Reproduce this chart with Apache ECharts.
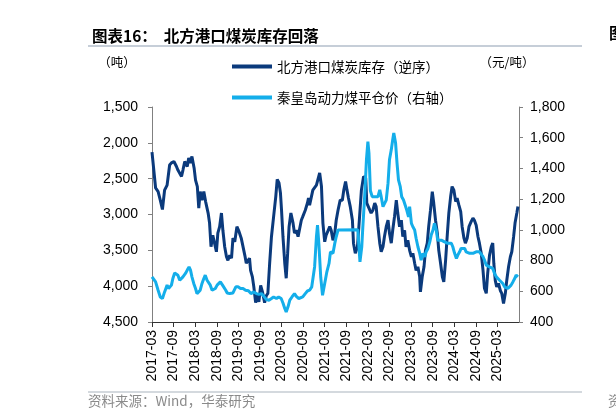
<!DOCTYPE html>
<html><head><meta charset="utf-8">
<script src="https://cdn.jsdelivr.net/npm/echarts@6/dist/echarts.min.js"></script>
<style>html,body{margin:0;padding:0;background:#fff}#c{width:616px;height:419px}</style>
</head><body><div id="c"></div><script>
// Time positions are in months after March 2017 (2017-03 = 0)
const titleText = '图表16：  北方港口煤炭库存回落';
const seriesNames = ['北方港口煤炭库存（逆序）', '秦皇岛动力煤平仓价（右轴）'];
const leftUnit = '（吨）';
const rightUnit = '（元/吨）';
const sourceText = '资料来源：Wind，华泰研究';
const xTickLabels = ['2017-03','2017-09','2018-03','2018-09','2019-03','2019-09','2020-03','2020-09','2021-03','2021-09','2022-03','2022-09','2023-03','2023-09','2024-03','2024-09','2025-03'];

const invT = [0,1.0,1.7,2.3,2.9,3.5,4.2,4.9,5.4,6.1,
6.8,7.2,7.7,8.2,8.6,9.1,9.6,9.8,10.2,10.7,
11.1,11.7,12.1,12.6,13.0,13.4,13.9,14.4,14.9,15.6,
16.0,16.4,16.9,17.4,17.9,18.3,18.8,19.3,19.7,20.2,
20.7,21.1,21.6,22.1,22.5,23.0,23.6,24.2,24.8,25.3,
25.8,26.2,26.7,27.1,27.4,27.9,28.3,28.8,29.3,29.7,
30.2,30.7,31.3,31.8,32.2,32.7,33.2,33.8,34.4,34.8,
35.3,35.7,36.0,36.4,36.9,37.3,37.7,38.1,38.6,39.2,
39.6,40.1,40.6,41.0,41.5,41.9,42.6,43.2,43.5,43.8,
44.7,45.7,46.6,47.1,47.5,48.0,48.4,49.4,49.8,50.3,
50.8,51.2,51.7,52.3,52.9,53.3,53.8,54.2,54.6,55.1,
55.7,56.0,56.5,57.1,57.5,58.2,58.8,59.4,59.7,60.3,
60.9,61.4,61.9,62.3,62.8,63.3,63.7,64.2,64.6,65.1,
65.6,66.0,66.5,66.9,67.4,67.9,68.3,68.8,69.3,69.7,
70.2,70.6,71.1,71.6,72.1,72.5,73.0,73.4,73.9,74.4,
74.6,75.1,75.6,76.0,76.5,76.9,77.4,77.9,78.3,78.8,
79.3,79.7,80.2,80.7,81.1,81.6,82.1,82.5,83.0,83.4,
83.9,84.4,84.8,85.3,85.8,86.2,86.7,87.1,87.6,88.1,
88.7,89.2,89.6,90.1,90.6,91.0,91.5,92.0,92.4,92.9,
93.3,93.8,94.3,94.7,95.0,95.4,95.8,96.3,96.8,97.2,
97.7,98.2,98.6,99.1,99.6,100.0,100.5,100.9,101.4,101.7];
const invV = [2130,2630,2680,2800,2930,2660,2590,2310,2280,2260,
2330,2380,2400,2470,2380,2260,2240,2330,2210,2280,
2190,2350,2520,2610,2910,2680,2800,2680,2820,2980,
3120,3450,3290,3310,3520,3260,3170,2980,3220,3450,
3590,3640,3570,3610,3330,3380,3170,3240,3330,3310,
3570,3680,3660,3610,3780,3870,4010,4230,4100,4220,
3990,4080,4230,4130,4100,3680,3310,3030,2750,2510,
2560,2700,2940,3310,3680,3890,3540,3170,2980,3120,
3260,3220,3310,3290,3080,3030,2940,2840,2770,2870,
2660,2590,2420,2610,3120,3380,3290,3170,3220,3360,
3260,3080,2940,2800,2800,2660,2540,2660,2770,2890,
3080,3400,3540,3450,3170,2660,2470,2490,2840,2910,
2980,2940,2840,2890,3170,3400,3520,3450,3310,3170,
3080,3260,3400,3220,3030,2800,2980,3170,3080,3310,
3220,3450,3360,3500,3590,3540,3680,3780,3730,3870,
4080,3870,3730,3500,3400,3170,2940,2680,2840,3080,
3260,3500,3680,3870,3940,3640,3260,2980,2750,2610,
2660,2820,2770,2870,2960,3170,3330,3400,3330,3170,
3100,3050,3080,3150,3310,3400,3540,3780,4030,4100,
3820,3570,3450,3400,3680,3920,4010,3960,4060,4100,
4240,4100,3920,3730,3590,3520,3310,3120,2980,2890];

const priceT = [0,1.0,1.7,2.3,2.9,3.5,4.2,4.6,5.4,5.8,
6.3,6.8,7.2,7.7,8.2,8.6,9.3,9.8,10.3,10.7,
11.1,11.6,12.1,12.5,13.0,13.4,13.9,14.4,14.8,15.3,
15.8,16.2,16.7,17.1,17.6,18.1,18.5,19.0,19.6,20.0,
20.5,20.9,21.6,22.5,23.3,23.9,24.6,25.3,26.0,26.8,
27.5,28.3,29.0,29.7,30.4,31.0,31.8,32.5,33.2,33.8,
34.6,35.2,35.9,36.4,36.9,37.3,37.8,38.3,38.9,39.6,
40.1,40.8,41.3,41.9,42.6,43.2,43.8,44.4,45.2,45.7,
46.0,46.4,46.9,47.4,48.0,48.6,49.2,49.6,50.3,50.8,
51.2,51.7,52.1,57.2,57.8,58.3,58.6,59.1,59.6,60.0,
60.3,60.7,61.2,61.9,62.8,63.3,63.7,64.2,64.6,65.1,
65.6,66.0,66.5,66.9,67.2,67.7,68.1,68.5,69.0,69.4,
69.9,70.4,70.8,71.3,71.6,72.1,72.5,73.0,73.4,73.9,
74.4,74.8,75.3,75.8,76.2,76.7,77.2,77.6,78.1,78.5,
79.0,79.4,79.9,80.4,80.8,81.3,81.8,82.2,82.7,83.2,
83.6,84.1,84.6,85.0,85.5,85.9,86.4,86.9,87.3,87.8,
88.3,88.7,89.2,89.6,90.1,90.6,91.0,91.5,92.0,92.4,
92.9,93.3,93.8,94.3,94.7,95.2,95.7,96.1,96.6,97.1,
97.5,98.0,98.4,98.9,99.4,99.8,100.3,100.8,101.2,101.7];
const priceV = [694,661,607,563,553,596,640,618,640,683,
720,727,705,672,676,694,716,738,759,738,
694,651,618,585,574,607,651,683,705,672,
683,640,607,596,618,640,651,661,640,629,
607,589,585,589,629,629,618,618,607,603,
585,596,585,580,585,570,546,542,553,563,
553,563,553,524,488,465,499,542,563,585,
567,553,542,563,585,602,607,629,760,955,
1031,900,690,574,651,727,781,857,847,912,
955,999,1000,1000,792,890,1020,1216,1456,1575,
1500,1255,1216,1216,1216,1260,1216,1151,1140,1194,
1304,1456,1521,1587,1630,1565,1434,1325,1281,1216,
1194,1205,1129,1085,1151,1042,1020,999,945,890,
847,803,847,825,857,879,922,966,999,1042,
999,933,922,933,922,922,912,912,922,912,
890,847,814,836,857,879,890,879,857,857,
847,836,847,857,857,868,857,847,825,803,
770,759,759,749,749,716,694,694,672,661,
651,629,618,618,629,640,661,683,705,694];

const CJK = '"Noto Sans CJK SC", "Noto Sans", sans-serif';
const LAT = '"Liberation Sans", Arial, sans-serif';
const DARK = '#0b3a7c';
const LIGHT = '#14aeea';

const chart = echarts.init(document.getElementById('c'), null, {renderer: 'canvas'});
const fmtThousands = v => Math.round(v).toLocaleString('en-US');

chart.setOption({
  animation: false,
  backgroundColor: '#ffffff',
  title: {
    text: titleText, left: 87, top: 23,
    textStyle: {fontFamily: CJK, fontSize: 15.5, fontWeight: 'bold', color: '#000'}
  },
  graphic: [
    {type: 'line', shape: {x1: 88, y1: 46, x2: 582, y2: 46}, style: {stroke: '#c6ced8', lineWidth: 2}},
    {type: 'line', shape: {x1: 88, y1: 392, x2: 582, y2: 392}, style: {stroke: '#aab3be', lineWidth: 1.2}},
    {type: 'text', x: 117, y: 62, style: {text: leftUnit, align: 'center', verticalAlign: 'middle', fontFamily: CJK, fontSize: 12.5, fill: '#000'}},
    {type: 'text', x: 507, y: 62, style: {text: rightUnit, align: 'center', verticalAlign: 'middle', fontFamily: CJK, fontSize: 12.5, fill: '#000'}},
    {type: 'text', x: 88, y: 401, style: {text: sourceText, align: 'left', verticalAlign: 'middle', fontFamily: CJK, fontSize: 13.5, fill: '#8a8a8a'}},
    {type: 'text', x: 609, y: 33, style: {text: '图表17：', align: 'left', verticalAlign: 'middle', fontFamily: CJK, fontSize: 15.5, fontWeight: 'bold', fill: '#000'}},
    {type: 'text', x: 608, y: 401, style: {text: '资料来源', align: 'left', verticalAlign: 'middle', fontFamily: CJK, fontSize: 13.5, fill: '#8a8a8a'}}
  ],
  legend: {
    orient: 'vertical', left: 232, top: 59,
    itemWidth: 40, itemHeight: 4, itemGap: 16, padding: 0,
    icon: 'rect',
    textStyle: {fontFamily: CJK, fontSize: 13.5, color: '#000', lineHeight: 15},
    data: seriesNames
  },
  grid: {left: 152, top: 107, width: 367, height: 215, containLabel: false},
  xAxis: {
    type: 'value', min: 0, max: 102, interval: 6,
    axisLine: {onZero: false, lineStyle: {color: '#333', width: 1}},
    axisTick: {show: true, length: 5, lineStyle: {color: '#333'}},
    splitLine: {show: false},
    axisLabel: {
      rotate: 90, margin: 8, fontFamily: LAT, fontSize: 14, color: '#000',
      showMaxLabel: false,
      formatter: v => { const i = Math.round(v / 6); return (Math.abs(v - i * 6) < 1e-6 && i < xTickLabels.length) ? xTickLabels[i] : ''; }
    }
  },
  yAxis: [
    {
      type: 'value', inverse: true, min: 1500, max: 4500, interval: 500, position: 'left',
      axisLine: {show: true, lineStyle: {color: '#808080'}},
      axisTick: {show: true, length: 4, lineStyle: {color: '#808080'}},
      splitLine: {show: false},
      axisLabel: {margin: 14, fontFamily: LAT, fontSize: 14, color: '#000', formatter: fmtThousands}
    },
    {
      type: 'value', min: 400, max: 1800, interval: 200, position: 'right',
      axisLine: {show: true, lineStyle: {color: '#808080'}},
      axisTick: {show: true, length: 4, lineStyle: {color: '#808080'}},
      splitLine: {show: false},
      axisLabel: {margin: 11, fontFamily: LAT, fontSize: 14, color: '#000', formatter: fmtThousands}
    }
  ],
  series: [
    {
      name: seriesNames[0], type: 'line', yAxisIndex: 0, showSymbol: false, symbol: 'none',
      lineStyle: {color: DARK, width: 3}, itemStyle: {color: DARK},
      data: invT.map((t, i) => [t, invV[i]])
    },
    {
      name: seriesNames[1], type: 'line', yAxisIndex: 1, showSymbol: false, symbol: 'none',
      lineStyle: {color: LIGHT, width: 3}, itemStyle: {color: LIGHT},
      data: priceT.map((t, i) => [t, priceV[i]])
    }
  ]
});
</script></body></html>
